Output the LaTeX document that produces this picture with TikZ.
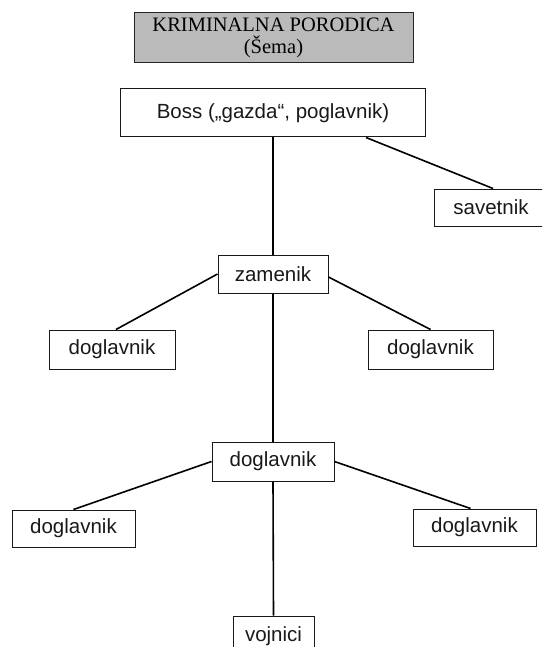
\documentclass[tikz,border=0pt]{standalone}
\usepackage{fontspec}
\setmainfont{Liberation Sans}
\newfontfamily\titlefont{Liberation Serif}
\usetikzlibrary{calc}
\begin{document}
\begin{tikzpicture}[x=1pt,y=-1pt,
  box/.style={draw=black!90, line width=1pt, fill=white, inner sep=0pt,
    font=\fontsize{20.5}{24}\selectfont, text=black!90},
  conn/.style={draw=black, line width=1.6pt},
  titlebox/.style={draw=black!85, line width=1pt, fill=black!27, inner sep=0pt,
    align=center, font=\titlefont\fontsize{20.5}{22}\selectfont}]
\useasboundingbox (0,0) rectangle (542,647);
\clip (0,0) rectangle (542,647);
% nodes
\node[titlebox, minimum width=279pt, minimum height=50pt] (title) at (273.5,38)
  {KRIMINALNA PORODICA\\(Šema)};
\node[box, minimum width=305pt, minimum height=48pt] (boss) at (273,113)
  {Boss („gazda“, poglavnik)};
\node[box, minimum width=114pt, minimum height=37pt] (sav) at (491,207.5) {savetnik};
\node[box, minimum width=110pt, minimum height=38pt] (zam) at (273,274) {zamenik};
\node[box, minimum width=126pt, minimum height=39pt] (dlA) at (112,349.5) {doglavnik};
\node[box, minimum width=125pt, minimum height=39pt] (drA) at (430.5,349.5) {doglavnik};
\node[box, minimum width=122pt, minimum height=39pt] (dm) at (273,461.5) {doglavnik};
\node[box, minimum width=123pt, minimum height=37pt] (dlB) at (73.5,528.5) {doglavnik};
\node[box, minimum width=123pt, minimum height=37pt] (drB) at (474.5,527.5) {doglavnik};
\node[box, minimum width=81pt, minimum height=40pt] (voj) at (273.5,636) {vojnici};
% connectors
\draw[conn] (boss.south) -- (zam.north);
\draw[conn] ($(boss.south east)+(-60,0)$) -- ($(sav.north)+(2,0)$);
\draw[conn] (zam.west) -- ($(dlA.north)+(4,0)$);
\draw[conn] ($(zam.east)+(0,3)$) -- (drA.north);
\draw[conn] (zam.south) -- (dm.north);
\draw[conn] (dm.west) -- (dlB.north);
\draw[conn] (dm.east) -- ($(drB.north)+(-4,0)$);
\draw[conn] (dm.south) -- (voj.north);
\end{tikzpicture}
\end{document}
